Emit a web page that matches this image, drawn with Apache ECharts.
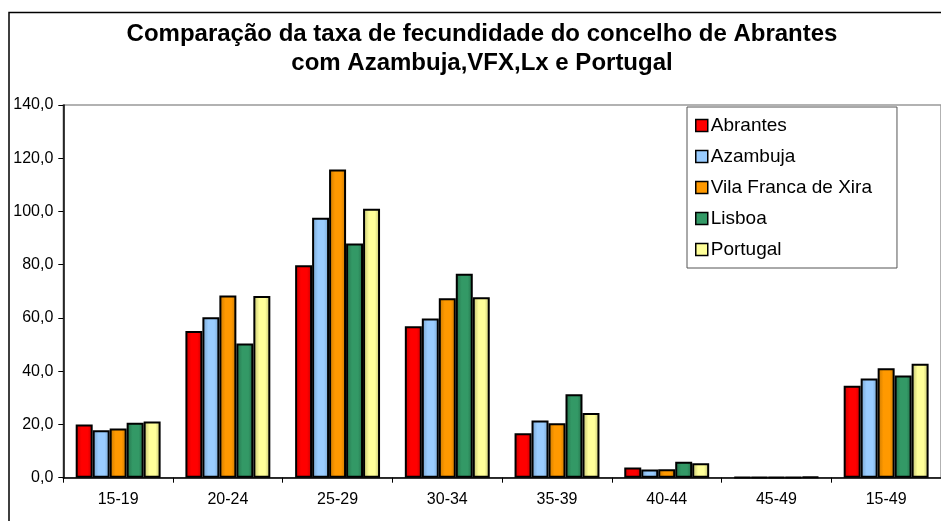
<!DOCTYPE html>
<html>
<head>
<meta charset="utf-8">
<script src="https://cdn.jsdelivr.net/npm/echarts@6/dist/echarts.min.js"></script>
<style>
html, body { margin: 0; padding: 0; background: #fff; }
#chart { width: 941px; height: 521px; }
</style>
</head>
<body>
<div id="chart"></div>
<script>
var categories = ["15-19", "20-24", "25-29", "30-34", "35-39", "40-44", "45-49", "15-49"];
var seriesNames = ["Abrantes", "Azambuja", "Vila Franca de Xira", "Lisboa", "Portugal"];
var abrantes = [20.0, 55.1, 79.8, 56.9, 16.7, 3.8, 0.2, 34.5];
var azambuja = [17.8, 60.3, 97.6, 59.8, 21.5, 3.1, 0.2, 37.3];
var vfx = [18.5, 68.4, 115.8, 67.4, 20.5, 3.2, 0.2, 41.1];
var lisboa = [20.6, 50.4, 88.0, 76.6, 31.3, 6.0, 0.2, 38.4];
var portugal = [21.1, 68.3, 101.0, 67.8, 24.3, 5.4, 0.3, 42.8];
var seriesData = [abrantes, azambuja, vfx, lisboa, portugal];
var yTicks = [0, 20, 40, 60, 80, 100, 120, 140];

var baseColors = ["#FF0000", "#99CCFF", "#FF9900", "#339966", "#FFFF99"];
var edgeColors = ["#C80000", "#78A3CC", "#C87800", "#24704A", "#BDBD70"];

var chart = echarts.init(document.getElementById("chart"));

// barras com sombreado horizontal tipo Excel
function shade(i) {
	return new echarts.graphic.LinearGradient(0, 0, 1, 0, [
		{ offset: 0, color: edgeColors[i] },
		{ offset: 0.35, color: baseColors[i] },
		{ offset: 0.7, color: baseColors[i] },
		{ offset: 1, color: edgeColors[i] }
	]);
}

var series = [];
for (var i = 0; i < seriesNames.length; i++) {
	series.push({
		name: seriesNames[i],
		type: "bar",
		data: seriesData[i],
		barGap: "0%",
		barCategoryGap: "22.6%",
		itemStyle: {
			color: shade(i),
			borderColor: "#000",
			borderWidth: 2
		}
	});
}

var legendData = [];
for (var k = 0; k < seriesNames.length; k++) {
	legendData.push({
		name: seriesNames[k],
		itemStyle: { color: baseColors[k], borderColor: "#000", borderWidth: 1.5 }
	});
}

chart.setOption({
	animation: false,
	backgroundColor: "#fff",
	textStyle: { fontFamily: "Liberation Sans, Arial, sans-serif" },
	title: {
		text: "Comparação da taxa de fecundidade do concelho de Abrantes\ncom Azambuja,VFX,Lx e Portugal",
		left: 482,
		textAlign: "center",
		top: 20,
		padding: 0,
		textStyle: {
			fontFamily: "Liberation Sans, Arial, sans-serif",
			fontSize: 24,
			fontWeight: "bold",
			color: "#000",
			lineHeight: 29
		}
	},
	graphic: [{
		type: "rect",
		shape: { x: 9, y: 12.5, width: 1000, height: 600 },
		style: { fill: "none", stroke: "#000", lineWidth: 1.5 },
		silent: true,
		z: 100
	}],
	legend: {
		orient: "vertical",
		left: 687,
		top: 107,
		data: legendData,
		icon: "rect",
		itemWidth: 12,
		itemHeight: 12,
		itemGap: 12,
		padding: [9, 25, 9, 8],
		backgroundColor: "#fff",
		borderColor: "#555",
		borderWidth: 1,
		borderRadius: 0,
		textStyle: { fontFamily: "Liberation Sans, Arial, sans-serif", fontSize: 19, color: "#000", padding: [0, 0, 0, -2] }
	},
	grid: {
		left: 63.3,
		top: 105,
		right: -10,
		bottom: 43.3,
		show: true,
		borderColor: "#999",
		borderWidth: 1.5,
		containLabel: false
	},
	xAxis: {
		type: "category",
		data: categories,
		axisLine: { lineStyle: { color: "#000", width: 1.5 } },
		axisTick: { show: true, length: 5, lineStyle: { color: "#000" } },
		axisLabel: { color: "#000", fontSize: 16, margin: 14 }
	},
	yAxis: {
		type: "value",
		min: yTicks[0],
		max: yTicks[yTicks.length - 1],
		interval: 20,
		axisLine: { show: true, lineStyle: { color: "#000", width: 1.5 } },
		axisTick: { show: true, length: 5, lineStyle: { color: "#000" } },
		splitLine: { show: false },
		axisLabel: {
			color: "#000",
			fontSize: 16,
			margin: 10,
			formatter: function (v) { return v.toFixed(1).replace(".", ","); }
		}
	},
	series: series
});
</script>
</body>
</html>
